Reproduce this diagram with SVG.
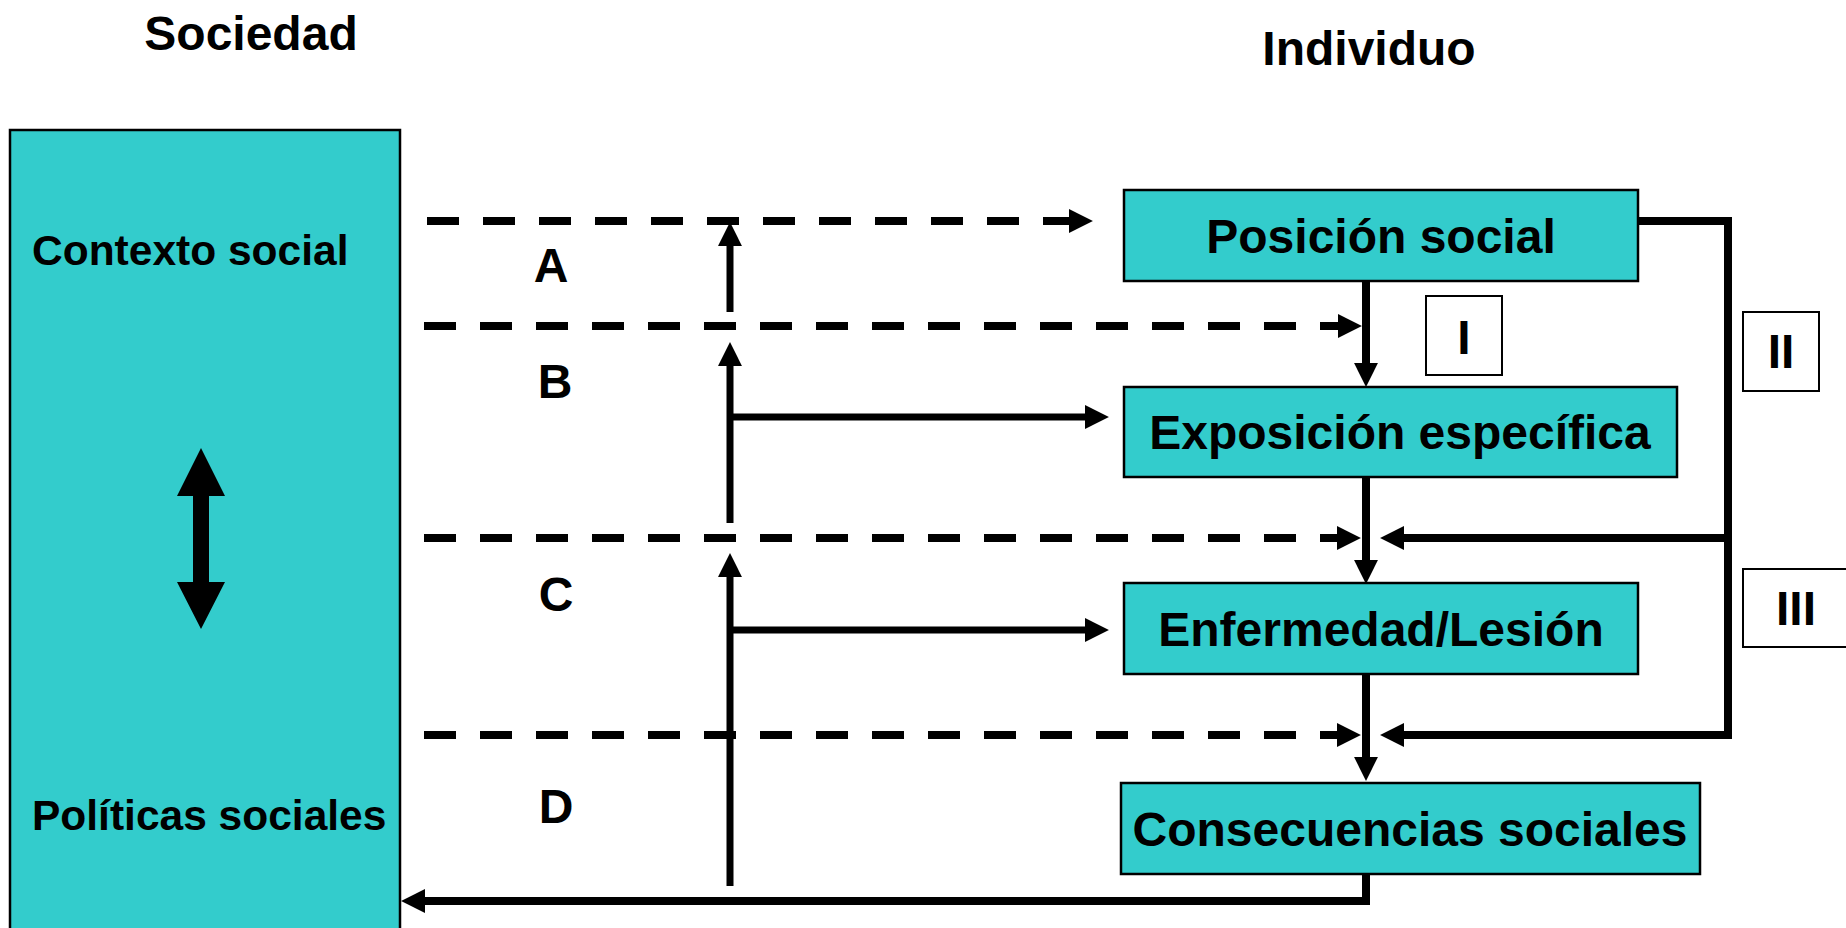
<svg xmlns="http://www.w3.org/2000/svg" width="1846" height="928" viewBox="0 0 1846 928">
<style>
text{font-family:"Liberation Sans",Arial,sans-serif;font-weight:bold;fill:#000}
.box{fill:#33CCCC;stroke:#000;stroke-width:2.5}
.lbl{fill:#fff;stroke:#000;stroke-width:2}
.t48{font-size:48px}
.t42{font-size:42.5px}
.c{text-anchor:middle}
.ln{fill:none;stroke:#000;stroke-width:8}
.dash{fill:none;stroke:#000;stroke-width:8;stroke-dasharray:32 24}
.th{fill:none;stroke:#000;stroke-width:7}
</style>
<defs>
<marker id="ah" markerUnits="userSpaceOnUse" markerWidth="24" markerHeight="24" viewBox="0 0 23 23" refX="2" refY="11.5" orient="auto">
<path d="M0,0 L23,11.5 L0,23 z" fill="#000"/>
</marker>
</defs>
<rect width="1846" height="928" fill="#fff"/>

<text class="t48 c" x="251" y="50">Sociedad</text>
<text class="t48 c" x="1369" y="65">Individuo</text>

<g id="sociedad">
<rect class="box" x="10" y="130" width="390" height="830"/>
<text class="t42" x="32" y="265">Contexto social</text>
<text class="t42" x="32" y="830">Políticas sociales</text>
<polygon points="201,448 225,496 209,496 209,582 225,582 201,629 177,582 193,582 193,496 177,496" fill="#000"/>
</g>

<g id="posicion">
<rect class="box" x="1124" y="190" width="514" height="91"/>
<text class="t48 c" x="1381" y="253">Posición social</text>
</g>
<g id="exposicion">
<rect class="box" x="1124" y="387" width="553" height="90"/>
<text class="t48 c" x="1400" y="449">Exposición específica</text>
</g>
<g id="enfermedad">
<rect class="box" x="1124" y="583" width="514" height="91"/>
<text class="t48 c" x="1381" y="646">Enfermedad/Lesión</text>
</g>
<g id="consecuencias">
<rect class="box" x="1121" y="783" width="579" height="91"/>
<text class="t48 c" x="1410" y="846">Consecuencias sociales</text>
</g>

<g id="label-I">
<rect class="lbl" x="1426" y="296" width="76" height="79"/>
<text class="t48 c" x="1464" y="354">I</text>
</g>
<g id="label-II">
<rect class="lbl" x="1743" y="312" width="76" height="79"/>
<text class="t48 c" x="1781" y="368">II</text>
</g>
<g id="label-III">
<rect class="lbl" x="1743" y="569" width="120" height="78"/>
<text class="t48 c" x="1796" y="625">III</text>
</g>

<g id="letters">
<text class="t48 c" x="551" y="282">A</text>
<text class="t48 c" x="555" y="398">B</text>
<text class="t48 c" x="556" y="611">C</text>
<text class="t48 c" x="556" y="823">D</text>
</g>

<g id="connectors">
<line class="dash" x1="427" y1="221" x2="1071" y2="221" marker-end="url(#ah)"/>
<line class="dash" x1="424" y1="326" x2="1340" y2="326" marker-end="url(#ah)"/>
<line class="dash" x1="424" y1="538" x2="1339" y2="538" marker-end="url(#ah)"/>
<line class="dash" x1="424" y1="735" x2="1339" y2="735" marker-end="url(#ah)"/>
<line class="th" x1="730" y1="312" x2="730" y2="244" marker-end="url(#ah)"/>
<line class="th" x1="730" y1="523" x2="730" y2="364" marker-end="url(#ah)"/>
<line class="th" x1="730" y1="417" x2="1087" y2="417" marker-end="url(#ah)"/>
<line class="th" x1="730" y1="886" x2="730" y2="575" marker-end="url(#ah)"/>
<line class="th" x1="730" y1="630" x2="1087" y2="630" marker-end="url(#ah)"/>
<line class="ln" x1="1366" y1="281" x2="1366" y2="365" marker-end="url(#ah)"/>
<line class="ln" x1="1366" y1="477" x2="1366" y2="562" marker-end="url(#ah)"/>
<line class="ln" x1="1366" y1="674" x2="1366" y2="759" marker-end="url(#ah)"/>
<polyline class="ln" points="1366,874 1366,901 423,901" marker-end="url(#ah)"/>
<polyline class="ln" points="1638,221 1728,221 1728,735 1402,735" marker-end="url(#ah)"/>
<line class="ln" x1="1728" y1="538" x2="1402" y2="538" marker-end="url(#ah)"/>
</g>
</svg>
